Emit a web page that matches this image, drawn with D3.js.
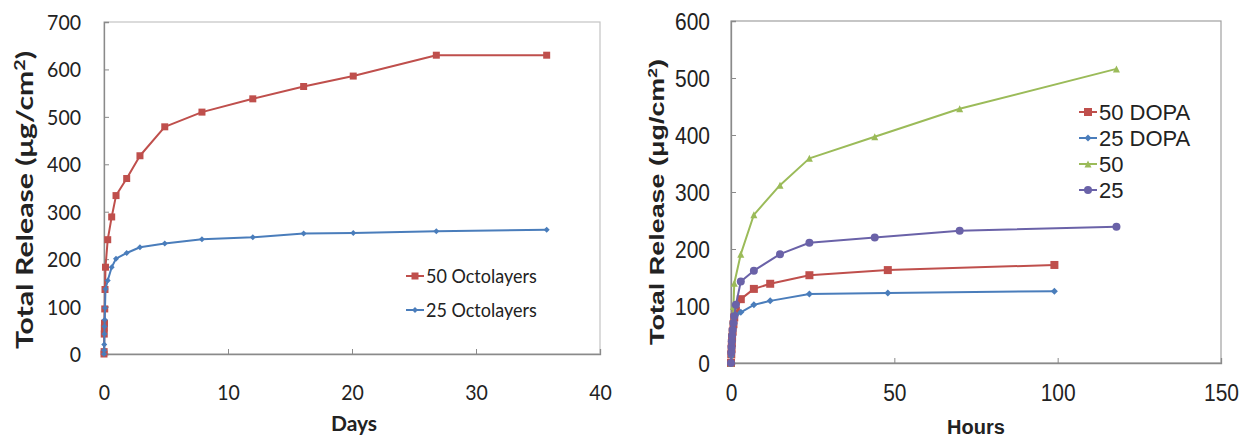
<!DOCTYPE html>
<html><head><meta charset="utf-8">
<script src="https://cdn.jsdelivr.net/npm/d3@7"></script>
<style>
html,body{margin:0;padding:0;background:#fff;}
svg{display:block;}
</style></head>
<body>
<svg id="chart" width="1240" height="439"></svg>
<script>
// ---------- Left chart data (Days) ----------
const octoDays50 = [0, 0.01, 0.02, 0.03, 0.04, 0.06, 0.08, 0.12, 0.3, 0.62, 0.97, 1.83, 2.9, 4.9, 7.9, 12, 16.1, 20.1, 26.8, 35.7];
const octo50     = [0, 5, 42, 55, 65, 95, 136, 183, 241, 289, 334, 370, 418, 479, 510, 538, 564, 586, 630, 630];
const octoDays25 = [0, 0.01, 0.02, 0.03, 0.04, 0.06, 0.08, 0.12, 0.3, 0.62, 0.97, 1.83, 2.9, 4.9, 7.9, 12, 16.1, 20.1, 26.8, 35.7];
const octo25     = [0, 8, 20, 42, 58, 72, 97, 137, 155, 183, 201, 213, 225, 233, 242, 246, 254, 255, 259, 262];
const leftXTicks = [0, 10, 20, 30, 40];
const leftYTicks = [0, 100, 200, 300, 400, 500, 600, 700];
const leftNames  = ["50 Octolayers", "25 Octolayers"];

// ---------- Right chart data (Hours) ----------
const dopaHours  = [0, 0.08, 0.17, 0.25, 0.33, 0.5, 0.75, 1, 1.5, 3, 7, 12, 24, 48, 99];
const dopa50     = [0, 15, 25, 35, 45, 55, 68, 80, 92, 112, 130, 139, 154, 163, 172];
const dopa25     = [0, 12, 22, 30, 38, 48, 60, 70, 84, 89, 102, 109, 121, 123, 126];
const plainHours50 = [0, 0.08, 0.17, 0.25, 0.33, 0.5, 0.75, 1, 3, 7, 15, 24, 44, 70, 118];
const plain50      = [0, 20, 32, 45, 58, 75, 99, 140, 191, 260, 312, 359, 397, 446, 516];
const plainHours25 = [0, 0.08, 0.17, 0.25, 0.33, 0.5, 0.75, 1, 1.5, 3, 7, 15, 24, 44, 70, 118];
const plain25      = [0, 18, 28, 38, 48, 58, 70, 82, 102, 143, 162, 191, 211, 220, 232, 239];
const rightXTicks = [0, 50, 100, 150];
const rightYTicks = [0, 100, 200, 300, 400, 500, 600];
const rightNames  = ["50 DOPA", "25 DOPA", "50", "25"];

const svg = d3.select("#chart");
const C = {red:"#bf4f4c", blue:"#4a7dbb", green:"#9bbb59", purple:"#6a62a8"};

function marker(g, type, x, y, color, s) {
  if (type === "square") {
    g.append("rect").attr("x", x - s/2).attr("y", y - s/2).attr("width", s).attr("height", s).attr("fill", color);
  } else if (type === "diamond") {
    g.append("path").attr("d", `M${x},${y-s/2}L${x+s/2},${y}L${x},${y+s/2}L${x-s/2},${y}Z`).attr("fill", color);
  } else if (type === "triangle") {
    g.append("path").attr("d", `M${x},${y-s/2}L${x+s/2},${y+s/2}L${x-s/2},${y+s/2}Z`).attr("fill", color);
  } else {
    g.append("circle").attr("cx", x).attr("cy", y).attr("r", s/2).attr("fill", color);
  }
}

function drawChart(cfg) {
  const g = svg.append("g");
  const x = d3.scaleLinear().domain(cfg.xDomain).range([cfg.x0, cfg.x1]);
  const y = d3.scaleLinear().domain(cfg.yDomain).range([cfg.y0, cfg.y1]);

  g.append("rect").attr("x", cfg.x0).attr("y", cfg.y1).attr("width", cfg.x1 - cfg.x0).attr("height", cfg.y0 - cfg.y1)
    .attr("fill", "none").attr("stroke", cfg.border).attr("stroke-width", 1.2);

  const xa = g.append("g").attr("transform", `translate(0,${cfg.y0})`)
    .call(d3.axisBottom(x).tickValues(cfg.xTicks).tickSize(-5).tickFormat(d3.format("d")));
  const ya = g.append("g").attr("transform", `translate(${cfg.x0},0)`)
    .call(d3.axisLeft(y).tickValues(cfg.yTicks).tickSize(-5).tickFormat(d3.format("d")));
  [xa, ya].forEach(a => {
    a.select(".domain").attr("stroke", cfg.axis).attr("stroke-width", 1.3);
    a.selectAll(".tick line").attr("stroke", cfg.axis).attr("stroke-width", 1);
    a.selectAll(".tick text").attr("font-family", cfg.font).attr("font-size", cfg.tickSize).attr("fill", "#222");
  });
  xa.selectAll(".tick text").attr("y", null).attr("dy", "0.35em")
    .attr("transform", `translate(0,${cfg.xLabelOff}) scale(1,${cfg.stretch})`).attr("text-anchor", "middle");
  ya.selectAll(".tick text").attr("x", null).attr("dy", "0.35em")
    .attr("transform", `translate(${-cfg.yLabelOff},0) scale(1,${cfg.stretch})`).attr("text-anchor", "end");
  ya.selectAll(".tick").filter(d => d === cfg.yDomain[0]).select("line").remove();
  xa.selectAll(".tick").filter(d => d === cfg.xDomain[0] || d === cfg.xDomain[1]).select("line").remove();

  g.append("text").attr("x", (cfg.x0 + cfg.x1) / 2 + cfg.xTitleDx).attr("y", cfg.xTitleY)
    .attr("text-anchor", "middle").attr("font-family", cfg.font).attr("font-weight", "bold")
    .attr("font-size", cfg.xTitleSize).attr("fill", "#222").text(cfg.xTitle);
  const yt = g.append("text").attr("transform", `translate(${cfg.yTitleX},${cfg.yTitleY}) rotate(-90)`)
    .attr("text-anchor", "middle").attr("font-family", cfg.font).attr("font-weight", "bold")
    .attr("font-size", cfg.titleSize).attr("fill", "#222")
    .attr("textLength", cfg.yTitleLen).attr("lengthAdjust", "spacingAndGlyphs");
  yt.append("tspan").text("Total Release (μg/cm");
  yt.append("tspan").attr("baseline-shift", "super").attr("font-size", cfg.titleSize * 0.65).text("2");
  yt.append("tspan").text(")");

  const line = d3.line().x(d => x(d[0])).y(d => y(d[1]));
  cfg.series.forEach(s => {
    const pts = s.xs.map((v, i) => [v, s.ys[i]]);
    g.append("path").datum(pts).attr("d", line).attr("fill", "none")
      .attr("stroke", s.color).attr("stroke-width", 2).attr("stroke-linejoin", "round");
    const mg = g.append("g");
    pts.forEach(p => marker(mg, s.marker, x(p[0]), y(p[1]), s.color, s.size));
  });

  cfg.series.forEach((s, i) => {
    const ly = cfg.legY + i * cfg.legDy;
    const lg = g.append("g");
    lg.append("line").attr("x1", cfg.legX - 9).attr("x2", cfg.legX + 9).attr("y1", ly).attr("y2", ly)
      .attr("stroke", s.color).attr("stroke-width", 2);
    marker(lg, s.marker, cfg.legX, ly, s.color, s.size);
    lg.append("text").attr("x", cfg.legX + 11).attr("y", ly).attr("dy", "0.35em")
      .attr("font-family", cfg.font).attr("font-size", cfg.legSize).attr("fill", "#222")
      .attr("transform", `translate(0,${ly}) scale(1,${cfg.legStretch}) translate(0,${-ly})`)
      .text(s.name);
  });
}

drawChart({
  xDomain: [0, 40], yDomain: [0, 700], x0: 104, x1: 600, y0: 354, y1: 22,
  xTicks: leftXTicks, yTicks: leftYTicks,
  border: "#c4c4c4", axis: "#8a8a8a",
  font: "Lato, 'Open Sans', sans-serif", tickSize: 19.5, stretch: 1.1,
  xLabelOff: 38, yLabelOff: 23,
  xTitle: "Days", xTitleDx: 2, xTitleY: 431, xTitleSize: 21, titleSize: 22,
  yTitleX: 33, yTitleY: 200, yTitleLen: 298,
  legX: 415, legY: 276, legDy: 34, legSize: 18, legStretch: 1.05,
  series: [
    {name: leftNames[0], xs: octoDays50, ys: octo50, color: C.red, marker: "square", size: 7},
    {name: leftNames[1], xs: octoDays25, ys: octo25, color: C.blue, marker: "diamond", size: 6}
  ]
});

drawChart({
  xDomain: [0, 150], yDomain: [0, 600], x0: 731, x1: 1221, y0: 363, y1: 21,
  xTicks: rightXTicks, yTicks: rightYTicks,
  border: "#a0a0a0", axis: "#8a8a8a",
  font: "'Liberation Sans', Arial, sans-serif", tickSize: 21, stretch: 1.12,
  xLabelOff: 30, yLabelOff: 21,
  xTitle: "Hours", xTitleDx: 0, xTitleY: 434, xTitleSize: 20, titleSize: 21,
  yTitleX: 664, yTitleY: 202, yTitleLen: 286,
  legX: 1088, legY: 112, legDy: 26, legSize: 22, legStretch: 1.0,
  series: [
    {name: rightNames[0], xs: dopaHours, ys: dopa50, color: C.red, marker: "square", size: 8},
    {name: rightNames[1], xs: dopaHours, ys: dopa25, color: C.blue, marker: "diamond", size: 7},
    {name: rightNames[2], xs: plainHours50, ys: plain50, color: C.green, marker: "triangle", size: 7},
    {name: rightNames[3], xs: plainHours25, ys: plain25, color: C.purple, marker: "circle", size: 8}
  ]
});
</script>
</body></html>
